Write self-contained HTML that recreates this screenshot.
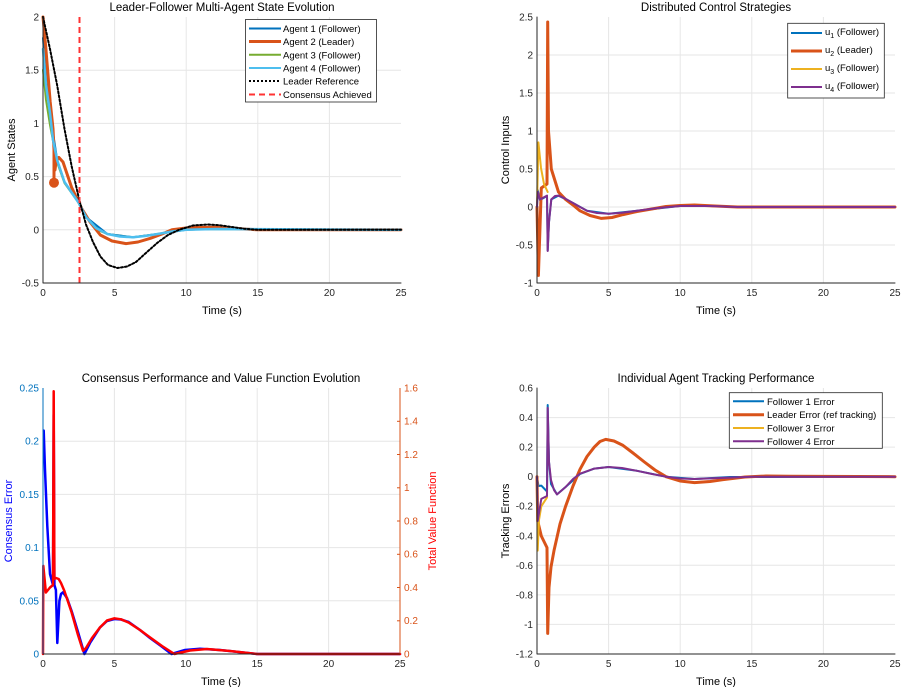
<!DOCTYPE html>
<html><head><meta charset="utf-8"><style>
body{margin:0;background:#fff;}
svg{display:block;font-family:"Liberation Sans",sans-serif;}
.g{stroke:#e6e6e6;stroke-width:1;}
.ax{stroke:#262626;stroke-width:1;fill:none;}
.t{font-size:10px;fill:#262626;}
.ti{font-size:11.5px;fill:#000;}
.lg{font-size:9.5px;fill:#000;}
polyline{fill:none;stroke-linejoin:round;stroke-linecap:round;}
</style></head><body>
<svg width="901" height="687" viewBox="0 0 901 687">
<!-- ===== Top-left ===== -->
<g>
<rect x="43" y="17" width="358" height="266" fill="#fff"/>
<line class="g" x1="114.6" y1="17" x2="114.6" y2="283"/><line class="g" x1="186.2" y1="17" x2="186.2" y2="283"/>
<line class="g" x1="257.8" y1="17" x2="257.8" y2="283"/><line class="g" x1="329.4" y1="17" x2="329.4" y2="283"/>
<line class="g" x1="43" y1="70.2" x2="401" y2="70.2"/><line class="g" x1="43" y1="123.4" x2="401" y2="123.4"/>
<line class="g" x1="43" y1="176.6" x2="401" y2="176.6"/><line class="g" x1="43" y1="229.8" x2="401" y2="229.8"/>
<polyline stroke="#77AC30" stroke-width="2" points="43,70 46,100 50,125 57,162 64.5,183 78.8,203 86,217 100,231 107.4,234 133,237.3 157.6,234 186,229.8 215,229 401,229.8"/>
<polyline stroke="#0072BD" stroke-width="2" points="43,38 46,80 50,113 57.3,160.6 64.5,182 78.8,203 86,217 107.4,234 133,237.3 157.6,234 186.2,229.8 215,229 401,229.8"/>
<polyline stroke="#D95319" stroke-width="3" points="43,17 45.9,49 50.2,102 53,128.7 54,150 54,182"/>
<circle cx="54" cy="182.7" r="5" fill="#D95319"/>
<polyline stroke="#D95319" stroke-width="3" points="55,170 56,162 58.8,157.4 63,162 71.6,187.4 81.7,208.5 90,222 100.3,235 112,241 126,243.6 138,242 150.4,238.3 162,234 172,229.8 190,227.5 214.8,227.2 235,228.5 257.8,229.8 401,229.8"/>
<polyline stroke="#4DBEEE" stroke-width="2.5" points="43,49 46,85 50,113 53,140 57.3,160.6 64.5,182 78.8,203 86,217 96,228 107.4,234 120,236.5 133,237.3 145,236 157.6,234 172,231.5 186.2,229.8 215,229 401,229.8"/>
<polyline stroke="#000" stroke-width="2" stroke-dasharray="2,2" points="43,17 50,49 57.3,86 64.5,129 71.6,166 78.8,198 86,224.5 93,242 100.3,256.4 108,265 117.5,268 127,266.5 136,262 147,252 157.6,242.6 168,235 179,229.8 193,225.5 207.7,224.5 220,225.3 229,226.6 244,228.7 257.8,229.8 401,229.8"/>
<line x1="79.5" y1="17" x2="79.5" y2="283" stroke="#FF3333" stroke-width="2" stroke-dasharray="6,4"/>
<polyline class="ax" points="43,17 43,283 401,283"/>
<g class="t" text-anchor="end"><text x="39" y="20.5">2</text><text x="39" y="73.7">1.5</text><text x="39" y="127">1</text><text x="39" y="180">0.5</text><text x="39" y="233.3">0</text><text x="39" y="286.5">-0.5</text></g>
<g class="t" text-anchor="middle"><text x="43" y="296">0</text><text x="114.6" y="296">5</text><text x="186.2" y="296">10</text><text x="257.8" y="296">15</text><text x="329.4" y="296">20</text><text x="401" y="296">25</text></g>
<text class="ti" x="222" y="11" text-anchor="middle">Leader-Follower Multi-Agent State Evolution</text>
<text x="222" y="314" font-size="11" text-anchor="middle">Time (s)</text>
<text transform="translate(15,150) rotate(-90)" font-size="11" text-anchor="middle">Agent States</text>
<rect x="245.5" y="19.5" width="131" height="82.5" fill="#fff" stroke="#262626" stroke-width="0.8"/>
<line x1="249" y1="28.5" x2="281" y2="28.5" stroke="#0072BD" stroke-width="2"/><text class="lg" x="283" y="32">Agent 1 (Follower)</text>
<line x1="249" y1="41.5" x2="281" y2="41.5" stroke="#D95319" stroke-width="3"/><text class="lg" x="283" y="45">Agent 2 (Leader)</text>
<line x1="249" y1="54.8" x2="281" y2="54.8" stroke="#77AC30" stroke-width="2"/><text class="lg" x="283" y="58.3">Agent 3 (Follower)</text>
<line x1="249" y1="68" x2="281" y2="68" stroke="#4DBEEE" stroke-width="2"/><text class="lg" x="283" y="71.5">Agent 4 (Follower)</text>
<line x1="249" y1="81" x2="281" y2="81" stroke="#000" stroke-width="2" stroke-dasharray="2,2"/><text class="lg" x="283" y="84.5">Leader Reference</text>
<line x1="249" y1="94.5" x2="281" y2="94.5" stroke="#FF3333" stroke-width="2" stroke-dasharray="6,4"/><text class="lg" x="283" y="98">Consensus Achieved</text>
</g>

<!-- ===== Top-right ===== -->
<g>
<line class="g" x1="608.6" y1="17" x2="608.6" y2="283"/><line class="g" x1="680.2" y1="17" x2="680.2" y2="283"/>
<line class="g" x1="751.8" y1="17" x2="751.8" y2="283"/><line class="g" x1="823.4" y1="17" x2="823.4" y2="283"/>
<line class="g" x1="537" y1="55" x2="895" y2="55"/><line class="g" x1="537" y1="93" x2="895" y2="93"/><line class="g" x1="537" y1="131" x2="895" y2="131"/>
<line class="g" x1="537" y1="169" x2="895" y2="169"/><line class="g" x1="537" y1="207" x2="895" y2="207"/><line class="g" x1="537" y1="245" x2="895" y2="245"/>
<polyline stroke="#0072BD" stroke-width="2" points="537,207 537.7,190 540,200 547,196 547.7,250.5 549,222 551.3,199.4 558.5,195.6 573,203 587,210.8 608.6,213.8 637,210.8 680,206 710,206 737,207 895,207"/>
<polyline stroke="#D95319" stroke-width="3" points="537,207 538.4,275.4 541.3,188 547,184 547.7,22 548.5,131 551.3,169 558.5,192 565.6,199.4 573,205 580,210.8 590,215.5 601.4,218.4 612,217.5 623,214.6 637,211.5 651.6,209 666,206.5 680.2,205.5 694.5,205 715,206 737.5,207 895,207"/>
<polyline stroke="#EDB120" stroke-width="2" points="537,207 538.4,142.4 541,168 544,184 547.7,192"/>
<polyline stroke="#7E2F8E" stroke-width="2" points="537,207 537.7,192 540,199.4 547,195.6 547.7,251 549,222 551.3,199.4 555,196 558.5,195.6 565,198.5 573,203 580,207 587,210.8 597,213 608.6,213.8 622,212.8 637,210.8 658,208 680,206 710,206 737,207 895,207"/>
<polyline class="ax" points="537,17 537,283 895,283"/>
<g class="t" text-anchor="end"><text x="533" y="20.5">2.5</text><text x="533" y="58.5">2</text><text x="533" y="96.5">1.5</text><text x="533" y="134.5">1</text><text x="533" y="172.5">0.5</text><text x="533" y="210.5">0</text><text x="533" y="248.5">-0.5</text><text x="533" y="286.5">-1</text></g>
<g class="t" text-anchor="middle"><text x="537" y="296">0</text><text x="608.6" y="296">5</text><text x="680.2" y="296">10</text><text x="751.8" y="296">15</text><text x="823.4" y="296">20</text><text x="895" y="296">25</text></g>
<text class="ti" x="716" y="11" text-anchor="middle">Distributed Control Strategies</text>
<text x="716" y="314" font-size="11" text-anchor="middle">Time (s)</text>
<text transform="translate(509,150) rotate(-90)" font-size="11" text-anchor="middle">Control Inputs</text>
<rect x="787.7" y="23.3" width="96.6" height="74.7" fill="#fff" stroke="#262626" stroke-width="0.8"/>
<line x1="791" y1="33" x2="822" y2="33" stroke="#0072BD" stroke-width="2"/><text class="lg" x="825" y="35">u<tspan font-size="7" dy="3">1</tspan><tspan dy="-3"> (Follower)</tspan></text>
<line x1="791" y1="51" x2="822" y2="51" stroke="#D95319" stroke-width="3"/><text class="lg" x="825" y="53">u<tspan font-size="7" dy="3">2</tspan><tspan dy="-3"> (Leader)</tspan></text>
<line x1="791" y1="69" x2="822" y2="69" stroke="#EDB120" stroke-width="2"/><text class="lg" x="825" y="71">u<tspan font-size="7" dy="3">3</tspan><tspan dy="-3"> (Follower)</tspan></text>
<line x1="791" y1="87" x2="822" y2="87" stroke="#7E2F8E" stroke-width="2"/><text class="lg" x="825" y="89">u<tspan font-size="7" dy="3">4</tspan><tspan dy="-3"> (Follower)</tspan></text>
</g>

<!-- ===== Bottom-left ===== -->
<g>
<line class="g" x1="114.4" y1="388" x2="114.4" y2="654"/><line class="g" x1="185.8" y1="388" x2="185.8" y2="654"/>
<line class="g" x1="257.2" y1="388" x2="257.2" y2="654"/><line class="g" x1="328.6" y1="388" x2="328.6" y2="654"/>
<line class="g" x1="43" y1="441.2" x2="400" y2="441.2" stroke="#dfe8f0"/><line class="g" x1="43" y1="494.4" x2="400" y2="494.4" stroke="#dfe8f0"/>
<line class="g" x1="43" y1="547.6" x2="400" y2="547.6" stroke="#dfe8f0"/><line class="g" x1="43" y1="600.8" x2="400" y2="600.8" stroke="#dfe8f0"/>
<polyline stroke="#0000FF" stroke-width="2.5" points="43.7,430.6 45,470 47.3,526 50,574 53,585 53.7,414.6 54.4,585 55.9,590 57.3,643 59.4,600.8 61,594 63,592.3 67,598 71.6,611 78,632 84.4,654 90,643 100,627.4 107,621 114.4,619 121,619.5 128.7,622 140,630 150,638 161,646 171.5,654 185,650 200,648.7 220,650 257,654 400,654"/>
<polyline stroke="#FF0000" stroke-width="2.5" points="43,654 43.3,565.9 45.9,592.5 50,587.5 53,585 53.7,391.3 54.4,579 56,578 58.7,579 61,583 64.4,591 71.6,612.4 78,635 83,650.7 86,648 92,638 100,627.4 107,620.5 114.4,618.3 121,619.3 128.7,622.6 140,630 150,637.4 162,646 174.4,654 190,650.5 207,649 230,651 257,654 400,654"/>
<line x1="43" y1="388" x2="43" y2="654" stroke="#0072BD" stroke-width="1"/>
<line x1="400" y1="388" x2="400" y2="654" stroke="#D95319" stroke-width="1"/>
<line x1="43" y1="654" x2="400" y2="654" stroke="#262626" stroke-width="1"/>
<g class="t" text-anchor="end" style="fill:#0072BD"><text x="39" y="391.5">0.25</text><text x="39" y="444.7">0.2</text><text x="39" y="498">0.15</text><text x="39" y="551">0.1</text><text x="39" y="604.3">0.05</text><text x="39" y="657.5">0</text></g>
<g class="t" style="fill:#D95319"><text x="404" y="391.5">1.6</text><text x="404" y="424.7">1.4</text><text x="404" y="458">1.2</text><text x="404" y="491.2">1</text><text x="404" y="524.5">0.8</text><text x="404" y="557.7">0.6</text><text x="404" y="591">0.4</text><text x="404" y="624.2">0.2</text><text x="404" y="657.5">0</text></g>
<g stroke="#D95319"><line x1="397" y1="421.3" x2="400" y2="421.3"/><line x1="397" y1="454.5" x2="400" y2="454.5"/><line x1="397" y1="487.8" x2="400" y2="487.8"/><line x1="397" y1="521" x2="400" y2="521"/><line x1="397" y1="554.3" x2="400" y2="554.3"/><line x1="397" y1="587.5" x2="400" y2="587.5"/><line x1="397" y1="620.8" x2="400" y2="620.8"/></g>
<g class="t" text-anchor="middle"><text x="43" y="667">0</text><text x="114.4" y="667">5</text><text x="185.8" y="667">10</text><text x="257.2" y="667">15</text><text x="328.6" y="667">20</text><text x="400" y="667">25</text></g>
<text class="ti" x="221" y="382" text-anchor="middle">Consensus Performance and Value Function Evolution</text>
<text x="221" y="685" font-size="11" text-anchor="middle">Time (s)</text>
<text transform="translate(12,521) rotate(-90)" font-size="11" fill="#0000FF" text-anchor="middle">Consensus Error</text>
<text transform="translate(436,521) rotate(-90)" font-size="11" fill="#FF0000" text-anchor="middle">Total Value Function</text>
</g>

<!-- ===== Bottom-right ===== -->
<g>
<line class="g" x1="608.6" y1="388" x2="608.6" y2="654"/><line class="g" x1="680.2" y1="388" x2="680.2" y2="654"/>
<line class="g" x1="751.8" y1="388" x2="751.8" y2="654"/><line class="g" x1="823.4" y1="388" x2="823.4" y2="654"/>
<line class="g" x1="537" y1="417.6" x2="895" y2="417.6"/><line class="g" x1="537" y1="447.1" x2="895" y2="447.1"/><line class="g" x1="537" y1="476.7" x2="895" y2="476.7"/>
<line class="g" x1="537" y1="506.2" x2="895" y2="506.2"/><line class="g" x1="537" y1="535.8" x2="895" y2="535.8"/><line class="g" x1="537" y1="565.3" x2="895" y2="565.3"/>
<line class="g" x1="537" y1="594.9" x2="895" y2="594.9"/><line class="g" x1="537" y1="624.4" x2="895" y2="624.4"/>
<polyline stroke="#0072BD" stroke-width="2" points="537,476.7 538.5,486 541.3,485.6 547,491.5 547.7,405 549,462 551,484 557,494.4 565.6,487 580,474 594.3,468.6 608.6,467 637,470.8 666,476.7 694.5,479 730,477 895,476.7"/>
<polyline stroke="#D95319" stroke-width="3" points="537,476.7 537.7,521 541.3,536 547,547.6 547.7,633.4 549,587.5 551,567 554,550.6 560,524 565.6,506.3 573,486 580,469.3 587,456.5 594.3,447.1 600,441.5 605.7,439.4 614,441 623,445.4 633,453 644.4,462 655,470 666,476.7 680,481 694.5,482.6 710,481.5 723,479.7 745,477 766,476 790,476.2 895,476.7"/>
<polyline stroke="#EDB120" stroke-width="2" points="537,476.7 537.7,550.6 539,520 541.3,506.3 547,497.4"/>
<polyline stroke="#7E2F8E" stroke-width="2" points="537,476.7 537.7,521 541.3,498.9 547,496 547.7,407.9 549,462 551,480 554,490 557,494.4 561,491 565.6,487 573,479 580,473.7 594.3,468.6 608.6,467 622,468 637,470.8 652,474 666,476.7 680,478.5 694.5,479 720,478 751.8,476.7 895,476.7"/>
<polyline class="ax" points="537,388 537,654 895,654"/>
<g class="t" text-anchor="end"><text x="533" y="391.5">0.6</text><text x="533" y="421">0.4</text><text x="533" y="450.6">0.2</text><text x="533" y="480.2">0</text><text x="533" y="509.7">-0.2</text><text x="533" y="539.3">-0.4</text><text x="533" y="568.8">-0.6</text><text x="533" y="598.4">-0.8</text><text x="533" y="627.9">-1</text><text x="533" y="657.5">-1.2</text></g>
<g class="t" text-anchor="middle"><text x="537" y="667">0</text><text x="608.6" y="667">5</text><text x="680.2" y="667">10</text><text x="751.8" y="667">15</text><text x="823.4" y="667">20</text><text x="895" y="667">25</text></g>
<text class="ti" x="716" y="382" text-anchor="middle">Individual Agent Tracking Performance</text>
<text x="716" y="685" font-size="11" text-anchor="middle">Time (s)</text>
<text transform="translate(509,521) rotate(-90)" font-size="11" text-anchor="middle">Tracking Errors</text>
<rect x="729.3" y="392.7" width="153" height="55.6" fill="#fff" stroke="#262626" stroke-width="0.8"/>
<line x1="733" y1="401.3" x2="764" y2="401.3" stroke="#0072BD" stroke-width="2"/><text class="lg" x="767" y="404.8">Follower 1 Error</text>
<line x1="733" y1="414.7" x2="764" y2="414.7" stroke="#D95319" stroke-width="3"/><text class="lg" x="767" y="418.2">Leader Error (ref tracking)</text>
<line x1="733" y1="428" x2="764" y2="428" stroke="#EDB120" stroke-width="2"/><text class="lg" x="767" y="431.5">Follower 3 Error</text>
<line x1="733" y1="441.3" x2="764" y2="441.3" stroke="#7E2F8E" stroke-width="2"/><text class="lg" x="767" y="444.8">Follower 4 Error</text>
</g>
</svg>
</body></html>
